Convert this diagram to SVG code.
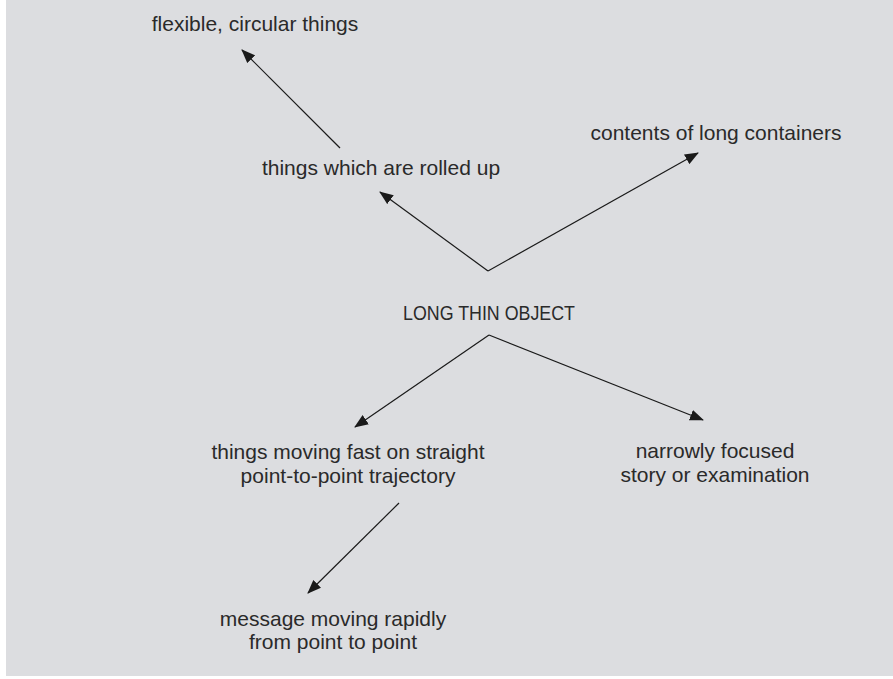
<svg xmlns="http://www.w3.org/2000/svg" width="893" height="679" viewBox="0 0 893 679">
<style>
text{font-family:"Liberation Sans",Arial,sans-serif;font-size:21px;fill:#2a2a2a;text-anchor:middle}
.c line{stroke:#1a1a1a;stroke-width:1.2;marker-end:url(#ah)}
</style>
<defs>
<marker id="ah" markerUnits="userSpaceOnUse" markerWidth="14" markerHeight="12" refX="13" refY="5.5" orient="auto" viewBox="0 0 14 11">
<path d="M0,0 L14,5.5 L0,11 Z" fill="#1a1a1a"/>
</marker>
</defs>
<rect x="0" y="0" width="893" height="679" fill="#ffffff"/>
<rect x="6" y="0" width="887" height="676" fill="#dcdde0"/>
<g class="c" id="connectors">
<line x1="340" y1="148" x2="242" y2="50"/>
<line x1="488" y1="271" x2="380" y2="192"/>
<line x1="488" y1="271" x2="698" y2="153"/>
<line x1="489" y1="335" x2="355" y2="427"/>
<line x1="489" y1="335" x2="703" y2="420"/>
<line x1="399" y1="503" x2="308" y2="593"/>
</g>
<g id="flexible"><text x="255" y="31">flexible, circular things</text></g>
<g id="rolled"><text x="381" y="175">things which are rolled up</text></g>
<g id="contents"><text x="716" y="140">contents of long containers</text></g>
<g id="long"><text x="489" y="320" font-size="20" textLength="172" lengthAdjust="spacingAndGlyphs">LONG THIN OBJECT</text></g>
<g id="moving"><text x="348" y="459">things moving fast on straight</text><text x="348" y="483">point-to-point trajectory</text></g>
<g id="narrow"><text x="715" y="458">narrowly focused</text><text x="715" y="482">story or examination</text></g>
<g id="message"><text x="333" y="626">message moving rapidly</text><text x="333" y="649">from point to point</text></g>
</svg>
